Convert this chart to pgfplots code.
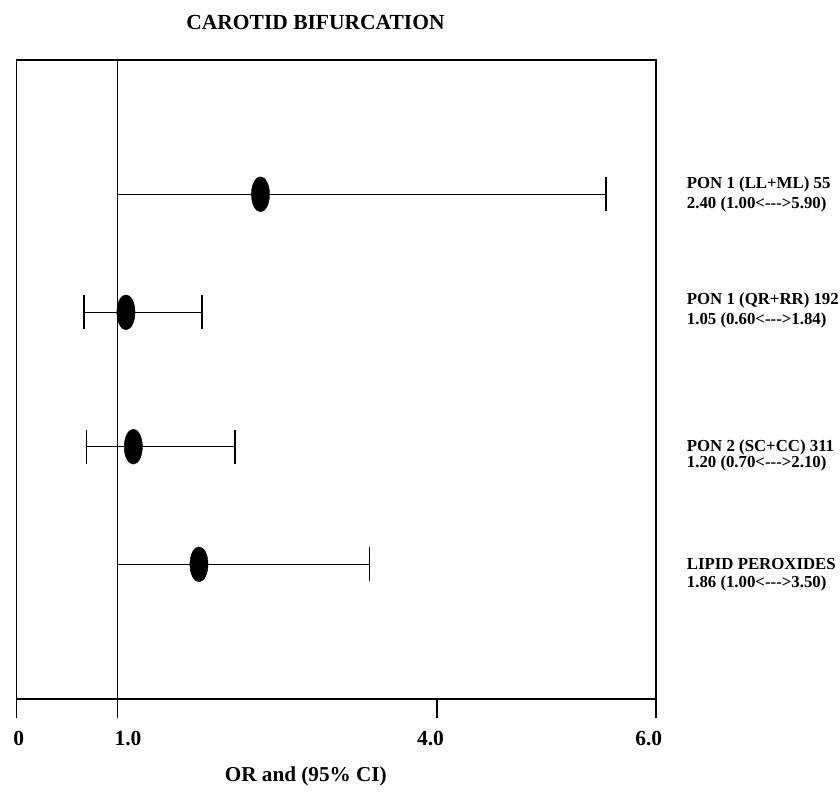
\documentclass[border=0pt]{standalone}
\usepackage{fontspec}
\setmainfont{Liberation Serif}
\usepackage{pgfplots}
\pgfplotsset{compat=1.18}
\begin{document}
\begin{tikzpicture}[x=1pt,y=1pt]
\path[use as bounding box] (0,0) rectangle (840,798);
\begin{axis}[
  at={(16.5pt,99pt)}, anchor=south west,
  scale only axis, width=639.5pt, height=639pt,
  xmin=0, xmax=6, ymin=0, ymax=639,
  axis line style={line width=1.2pt},
  xtick={0,0.948,3.945,6},
  xticklabels={{\kern4.4pt\textbf{0}},{\kern21pt\textbf{1.0}},{\textbf{4.0}\kern13pt},{\textbf{6.0}\kern14.6pt}},
  xticklabel style={font=\fontsize{21.5}{24}\selectfont\bfseries, anchor=base, yshift=-27pt},
  xtick pos=lower, tick align=outside, major tick length=19pt,
  major tick style={line width=1.2pt, black},
  ytick=\empty,
  clip=false,
]
% reference line at 1.0
\addplot[line width=1.2pt] coordinates {(0.948,0) (0.948,639)};
% confidence intervals with caps
\addplot[line width=1.2pt, mark=|, mark size=17pt, mark options={line width=1.2pt}] coordinates {(0.948,504.7) (5.531,504.7)};
\addplot[line width=1.2pt, mark=|, mark size=17pt, mark options={line width=1.2pt}] coordinates {(0.633,386.7) (1.740,386.7)};
\addplot[line width=1.2pt, mark=|, mark size=17pt, mark options={line width=1.2pt}] coordinates {(0.655,252.3) (2.050,252.3)};
\addplot[line width=1.2pt, mark=|, mark size=17pt, mark options={line width=1.2pt}] coordinates {(0.948,134.7) (3.314,134.7)};
% point estimates
\addplot[only marks, mark=*, mark size=17.5pt, mark options={xscale=0.52, fill=black, draw=black}] coordinates {
 (2.289,504.7) (1.027,386.7) (1.096,252.3) (1.712,134.7)};
% labels
\begin{scope}[every node/.style={anchor=base west, inner sep=0pt, font=\fontsize{16.8}{18}\selectfont\bfseries}]
\node at (axis cs:6.288,510.7) {PON 1 (LL+ML) 55};
\node at (axis cs:6.288,490.7) {2.40 (1.00<-{}-{}->5.90)};
\node at (axis cs:6.288,394) {PON 1 (QR+RR) 192};
\node at (axis cs:6.288,374) {1.05 (0.60<-{}-{}->1.84)};
\node at (axis cs:6.288,247.3) {PON 2 (SC+CC) 311};
\node at (axis cs:6.288,231) {1.20 (0.70<-{}-{}->2.10)};
\node at (axis cs:6.288,129) {LIPID PEROXIDES};
\node at (axis cs:6.288,112) {1.86 (1.00<-{}-{}->3.50)};
\end{scope}
\end{axis}
\node[anchor=base, inner sep=0pt, font=\fontsize{21.5}{24}\selectfont\bfseries] at (315.5,768) {CAROTID BIFURCATION};
\node[anchor=base, inner sep=0pt, font=\fontsize{21.2}{24}\selectfont\bfseries] at (305.8,17) {OR and (95\% CI)};
\end{tikzpicture}
\end{document}
